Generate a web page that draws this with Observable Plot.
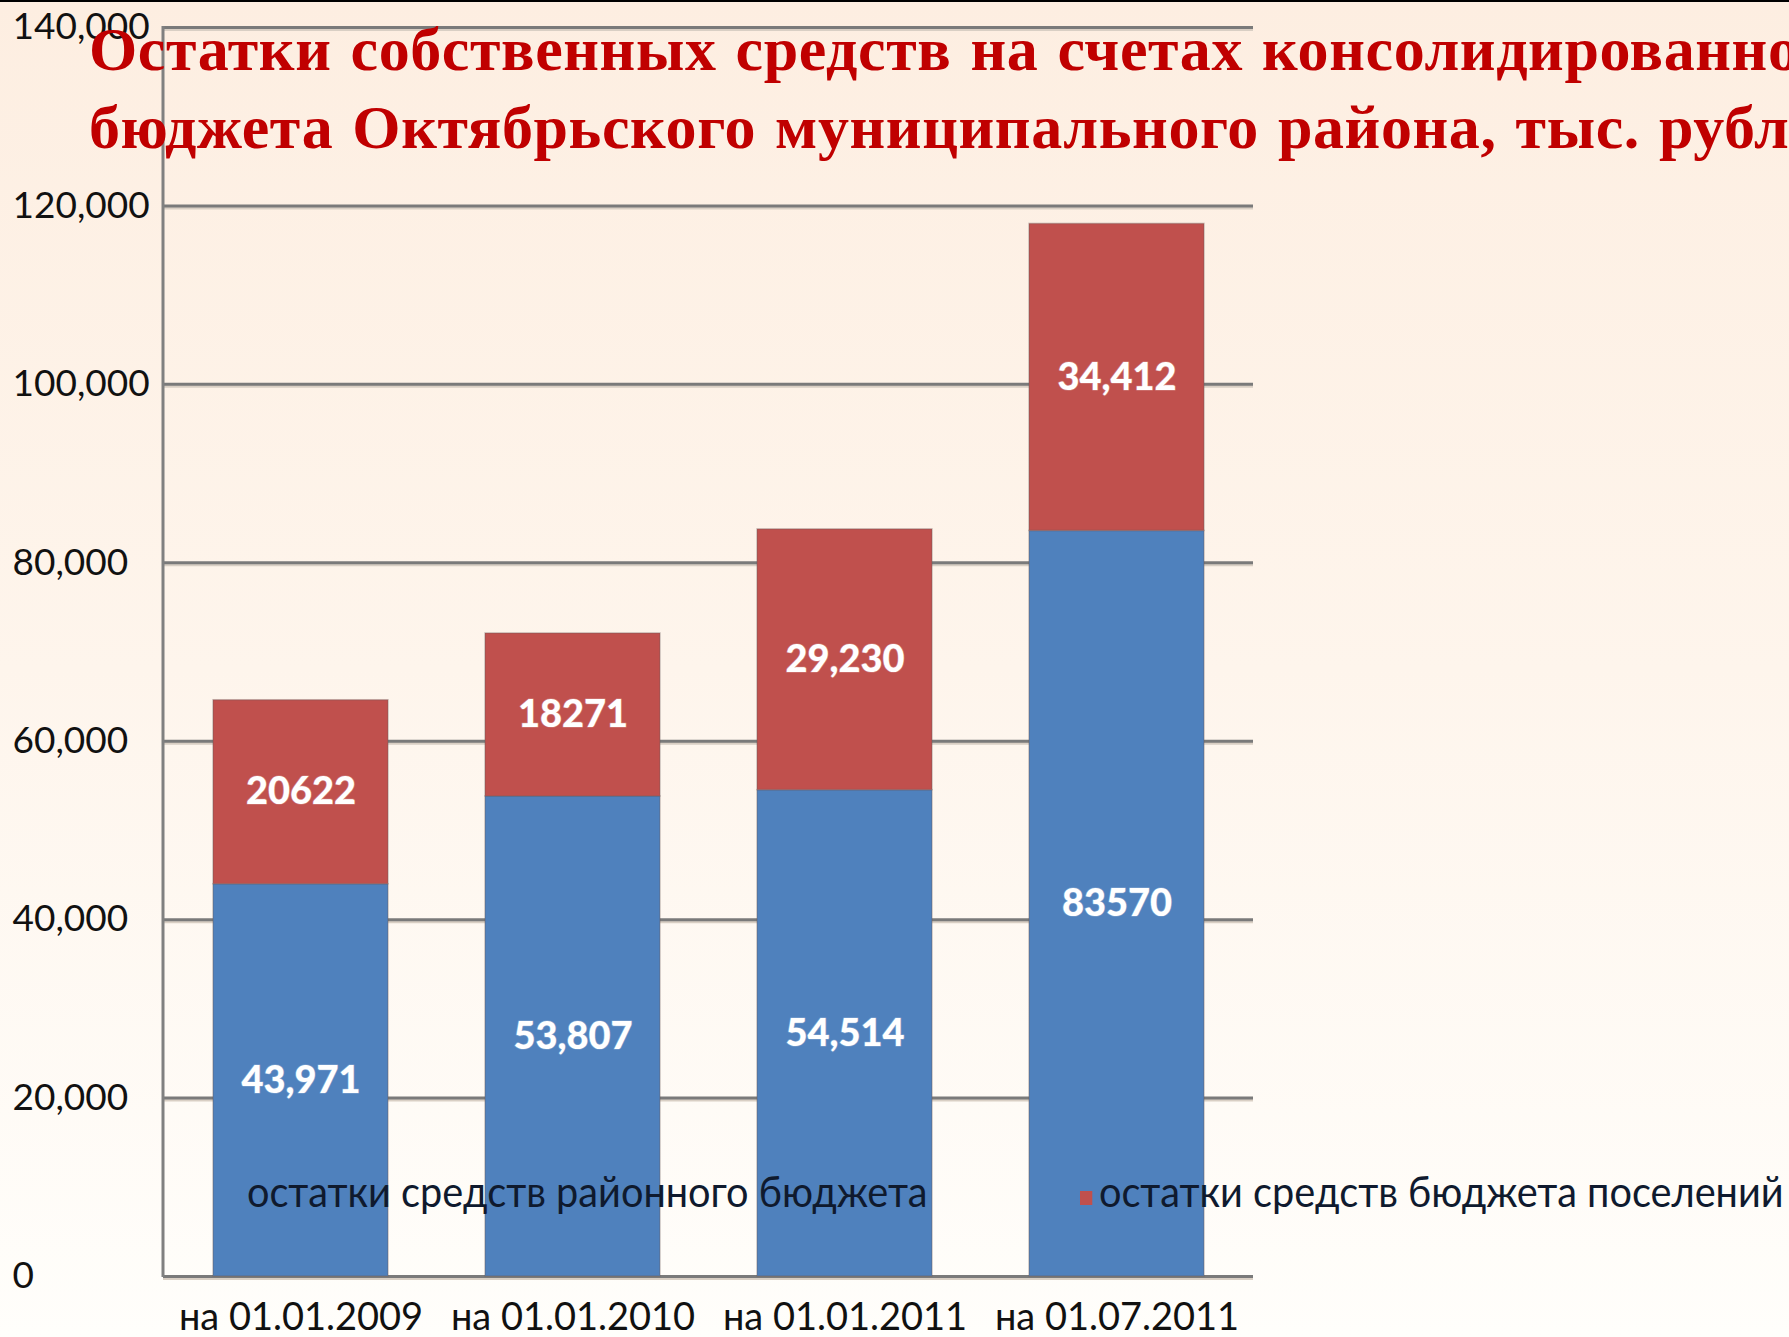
<!DOCTYPE html>
<html>
<head>
<meta charset="utf-8">
<script src="https://cdn.jsdelivr.net/npm/d3@7"></script>
<script src="https://cdn.jsdelivr.net/npm/@observablehq/plot@0.6"></script>
<style>
  html, body { margin: 0; padding: 0; }
  body {
    width: 1789px; height: 1337px; overflow: hidden; position: relative;
    background: linear-gradient(to bottom, #FDEEE1 0%, #FEF5EC 50%, #FFFEFB 100%);
    font-family: Lato, "Open Sans", sans-serif;
  }
  #topline { position: absolute; left: 0; top: 0; width: 1789px; height: 2px; background: #000; z-index: 5; }
  #chart { position: absolute; left: 0; top: 0; }
  #title {
    position: absolute; left: 89px; top: 10px; white-space: nowrap; z-index: 4;
    font-family: "Liberation Serif", "Times New Roman", serif; font-weight: bold;
    font-size: 62px; line-height: 78px; color: #C00000; letter-spacing: 0.6px; word-spacing: 3px;
  }
  .leg { position: absolute; top: 1166px; white-space: nowrap; z-index: 3;
    font-family: Lato, sans-serif; font-size: 42px; line-height: 50px; color: #0f1a2e;
    transform: scaleX(0.945); transform-origin: left center; }
  .sw { display: inline-block; width: 13px; height: 14px; margin-right: 7px; vertical-align: 2px; }
</style>
</head>
<body>
<div id="topline"></div>
<div id="chart"></div>
<div id="title">Остатки собственных средств на счетах консолидированного<br>бюджета Октябрьского муниципального района, тыс. рублей</div>
<div id="legend"></div>
<script>
const categories = ["на 01.01.2009", "на 01.01.2010", "на 01.01.2011", "на 01.07.2011"];
const seriesNames = ["остатки средств районного бюджета", "остатки средств бюджета поселений"];
const districtValues = [43971, 53807, 54514, 83570];
const settlementValues = [20622, 18271, 29230, 34412];
const districtLabels = ["43,971", "53,807", "54,514", "83570"];
const settlementLabels = ["20622", "18271", "29,230", "34,412"];
const yTicks = [0, 20000, 40000, 60000, 80000, 100000, 120000, 140000];
const colors = ["#4F81BD", "#C0504D"];

const data = [];
categories.forEach((c, i) => {
  data.push({cat: c, series: seriesNames[0], value: districtValues[i], label: districtLabels[i]});
  data.push({cat: c, series: seriesNames[1], value: settlementValues[i], label: settlementLabels[i]});
});

const yAxisLine = (index, scales, values, dimensions) => {
  const g = d3.create("svg:g");
  g.append("line")
    .attr("x1", dimensions.marginLeft).attr("x2", dimensions.marginLeft)
    .attr("y1", scales.y(yTicks[yTicks.length - 1]) - 1).attr("y2", scales.y(0) + 1)
    .attr("stroke", "#808080").attr("stroke-width", 3);
  return g.node();
};

const chart = Plot.plot({
  width: 1789,
  height: 1337,
  marginLeft: 163,
  marginRight: 536,
  marginTop: 27,
  marginBottom: 61,
  style: {background: "transparent", fontFamily: "Lato, sans-serif"},
  x: {domain: categories, paddingInner: 0.358, paddingOuter: 0.179, label: null},
  y: {domain: [0, 140000], label: null},
  color: {domain: seriesNames, range: colors},
  marks: [
    Plot.ruleY(yTicks, {stroke: "#d9cfc4", strokeWidth: 3, dy: 2}),
    Plot.ruleY(yTicks, {stroke: "#7a7a7a", strokeWidth: 3}),
    yAxisLine,
    Plot.barY(data, {x: "cat", y: "value", fill: "series", order: seriesNames, stroke: "#6b5a5a", strokeOpacity: 0.35, strokeWidth: 1.5}),
    Plot.text(data, Plot.stackY({x: "cat", y: "value", z: "series", order: seriesNames, text: "label",
      fill: "white", fontWeight: 900, fontSize: 38, stroke: "rgba(255,255,255,0.2)", strokeWidth: 1.5})),
    Plot.axisY({ticks: yTicks, tickSize: 0, tickPadding: 0, textAnchor: "start", dx: -151,
      tickFormat: d3.format(","), fontSize: 37, fill: "#111", label: null}),
    Plot.axisX({tickSize: 0, tickPadding: 27, fontSize: 38, fill: "#111", label: null})
  ]
});
document.getElementById("chart").appendChild(chart);

const legend = document.getElementById("legend");
const legendX = [228, 1080];
seriesNames.forEach((name, i) => {
  const d = document.createElement("div");
  d.className = "leg";
  d.style.left = legendX[i] + "px";
  const sw = document.createElement("span");
  sw.className = "sw";
  sw.style.background = colors[i];
  d.appendChild(sw);
  d.appendChild(document.createTextNode(name));
  legend.appendChild(d);
});
</script>
</body>
</html>
